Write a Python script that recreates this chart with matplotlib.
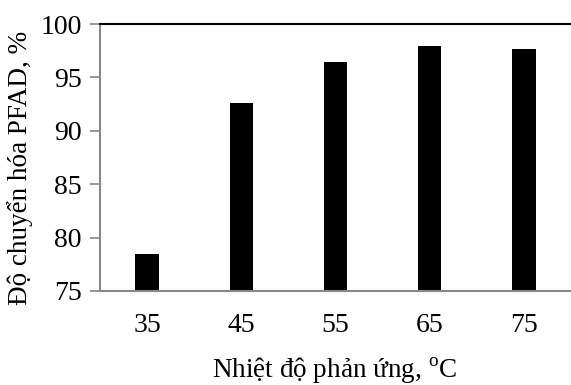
import matplotlib
matplotlib.use("Agg")
import matplotlib.pyplot as plt

plt.rcParams['font.family'] = ['Liberation Serif', 'DejaVu Serif']
plt.rcParams['mathtext.fontset'] = 'custom'
plt.rcParams['mathtext.rm'] = 'Liberation Serif'

categories = ['35', '45', '55', '65', '75']
values = [78.5, 92.6, 96.4, 97.9, 97.7]
yticks = [75, 80, 85, 90, 95, 100]

fig = plt.figure(figsize=(5.71, 3.85), dpi=100)
ax = fig.add_axes([100/571, 1-291/385, 1-100/571, (291-24)/385])
x = list(range(len(categories)))
ax.bar(x, values, width=0.25, color='black', bottom=0)
ax.set_xlim(-0.5, len(categories)-0.5)
ax.set_ylim(75, 100)
ax.set_yticks(yticks)
ax.set_xticks(x)
ax.set_xticklabels(categories)
ax.tick_params(axis='x', length=0, labelsize=20, pad=16)
ax.tick_params(axis='y', length=7, width=1.2, color='#888888', labelsize=20, pad=6, direction='out')
ax.spines['right'].set_visible(False)
ax.spines['top'].set_color('black')
ax.spines['top'].set_linewidth(1.5)
ax.spines['left'].set_color('#888888')
ax.spines['left'].set_linewidth(1.5)
ax.spines['bottom'].set_color('#888888')
ax.spines['bottom'].set_linewidth(1.5)
ax.set_ylabel('Độ chuyển hóa PFAD, %', fontsize=19.5)
ax.yaxis.set_label_coords(-0.142, 0.46)
ax.set_xlabel('Nhiệt độ phản ứng, $^{\\mathrm{o}}$C', fontsize=19.5)
ax.xaxis.set_label_coords(0.497, -0.24)
fig.savefig('out.png', dpi=100)
